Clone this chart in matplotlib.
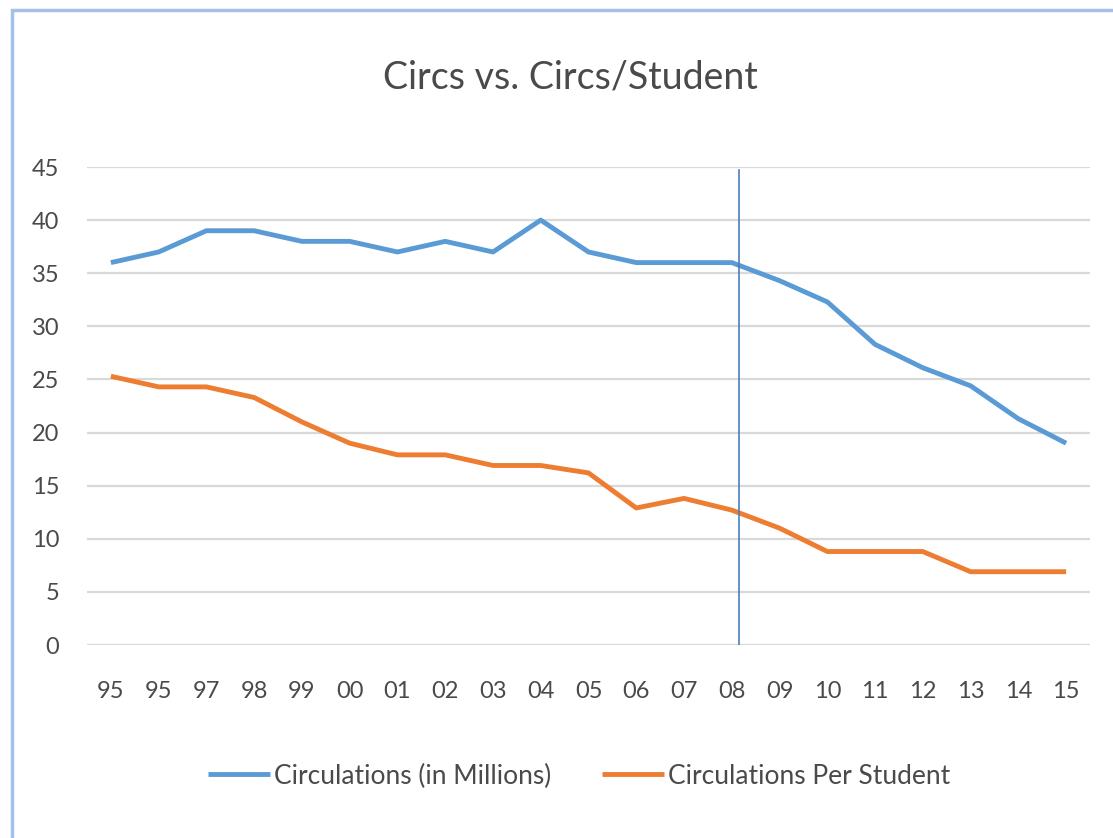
import matplotlib
matplotlib.use("Agg")
import matplotlib.pyplot as plt
from matplotlib.patches import Rectangle

years = ["95", "95", "97", "98", "99", "00", "01", "02", "03", "04", "05",
         "06", "07", "08", "09", "10", "11", "12", "13", "14", "15"]
circs_millions = [36, 37, 39, 39, 38, 38, 37, 38, 37, 40, 37,
                  36, 36, 36, 34.3, 32.3, 28.3, 26.1, 24.4, 21.3, 19]
circs_per_student = [25.3, 24.3, 24.3, 23.3, 21, 19, 17.9, 17.9, 16.9, 16.9, 16.2,
                     12.9, 13.8, 12.7, 11, 8.8, 8.8, 8.8, 6.9, 6.9, 6.9]
series_names = ["Circulations (in Millions)", "Circulations Per Student"]
y_ticks = [0, 5, 10, 15, 20, 25, 30, 35, 40, 45]
marker_x = 13.15
marker_top = 44.7

BLUE = "#5b9bd5"
ORANGE = "#ed7d31"
TEXT = "#4a4a4a"
FONT = "Lato"

W, H = 1113, 838
fig = plt.figure(figsize=(W / 100, H / 100), dpi=100)
fig.patch.set_facecolor("white")

# chart border
fig.patches.append(Rectangle((12 / W, -0.05), 1.2, 1 - 10 / H + 0.05,
                             transform=fig.transFigure, fill=False,
                             edgecolor="#a4c2e8", linewidth=2.5, zorder=0))

ax = fig.add_axes([87 / W, 1 - 645 / H, (1090 - 87) / W, (645 - 167) / H])
x = list(range(len(years)))
ax.plot(x, circs_millions, color=BLUE, lw=3.5, solid_capstyle="butt",
        solid_joinstyle="round", label=series_names[0], zorder=3)
ax.plot(x, circs_per_student, color=ORANGE, lw=3.5, solid_capstyle="butt",
        solid_joinstyle="round", label=series_names[1], zorder=3)
ax.plot([marker_x, marker_x], [0, marker_top], color="#4a7ebb", lw=1.2, zorder=4)

ax.set_xlim(-0.5, len(years) - 0.5)
ax.set_ylim(0, 45)
ax.set_yticks(y_ticks)
ax.set_xticks(x)
ax.set_xticklabels(years)
ax.yaxis.grid(True, color="#d9d9d9", lw=1.6)
ax.set_axisbelow(True)
for s in ax.spines.values():
    s.set_visible(False)
ax.tick_params(axis="both", length=0, labelsize=17, labelcolor=TEXT)
ax.tick_params(axis="y", pad=20)
ax.tick_params(axis="x", pad=26)
for lab in ax.get_xticklabels() + ax.get_yticklabels():
    lab.set_fontfamily(FONT)

fig.text(570 / W, 1 - 78 / H, "Circs vs. Circs/Student", ha="center", va="center",
         fontsize=27, color=TEXT, fontfamily=FONT)

leg = fig.legend(loc="center", bbox_to_anchor=(579 / W, 1 - 776 / H), ncol=2,
                 frameon=False, handlelength=2.35, handletextpad=0.15,
                 columnspacing=1.9, prop={"family": FONT, "size": 19})
for t in leg.get_texts():
    t.set_color(TEXT)

fig.savefig("out.png", dpi=100, facecolor="white")
